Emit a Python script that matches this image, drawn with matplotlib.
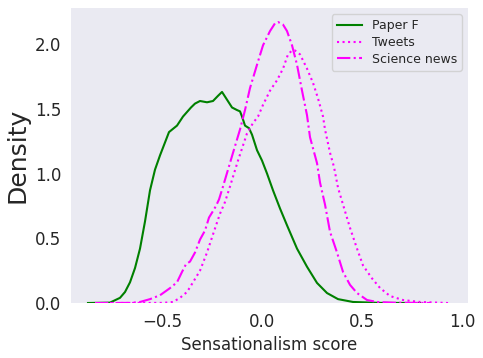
import numpy as np
import matplotlib
matplotlib.use("Agg")
import matplotlib.pyplot as plt

# density curves (x = sensationalism score, y = density)
paper_x = [-0.87, -0.76, -0.71, -0.685, -0.66, -0.635, -0.61, -0.585, -0.56, -0.535,
           -0.51, -0.485, -0.465, -0.425, -0.395, -0.355, -0.335, -0.31, -0.275, -0.245,
           -0.22, -0.20, -0.175, -0.15, -0.125, -0.11, -0.10, -0.085, -0.065, -0.05,
           -0.025, 0.0, 0.025, 0.055, 0.09, 0.125, 0.175, 0.225, 0.275, 0.325,
           0.38, 0.455, 0.59, 0.79]
paper_y = [0.0, 0.003, 0.04, 0.085, 0.16, 0.27, 0.42, 0.63, 0.87, 1.03,
           1.14, 1.24, 1.32, 1.37, 1.44, 1.51, 1.54, 1.56, 1.55, 1.56,
           1.60, 1.63, 1.57, 1.51, 1.49, 1.48, 1.44, 1.37, 1.35, 1.30,
           1.18, 1.10, 1.00, 0.87, 0.73, 0.60, 0.42, 0.28, 0.155, 0.077,
           0.03, 0.008, 0.001, 0.0]

tweets_x = [-0.76, -0.495, -0.445, -0.41, -0.375, -0.345, -0.31, -0.275, -0.245, -0.21,
            -0.185, -0.16, -0.12, -0.075, -0.045, -0.02, 0.005, 0.04, 0.075, 0.105,
            0.13, 0.15, 0.165, 0.19, 0.225, 0.255, 0.28, 0.305, 0.315, 0.34,
            0.36, 0.38, 0.405, 0.44, 0.475, 0.505, 0.55, 0.59, 0.64, 0.705,
            0.79, 0.93]
tweets_y = [0.0, 0.001, 0.008, 0.04, 0.085, 0.16, 0.25, 0.39, 0.53, 0.69,
            0.78, 0.90, 1.10, 1.31, 1.39, 1.44, 1.53, 1.64, 1.72, 1.81,
            1.92, 1.95, 1.95, 1.92, 1.81, 1.70, 1.58, 1.44, 1.34, 1.16,
            1.05, 0.89, 0.76, 0.58, 0.42, 0.29, 0.19, 0.116, 0.054, 0.023,
            0.008, 0.0]

news_x = [-0.835, -0.66, -0.61, -0.56, -0.51, -0.46, -0.425, -0.40, -0.38, -0.36,
          -0.335, -0.31, -0.285, -0.265, -0.245, -0.23, -0.215, -0.195, -0.145, -0.11,
          -0.085, -0.06, -0.025, 0.005, 0.04, 0.065, 0.08, 0.105, 0.125, 0.15,
          0.175, 0.20, 0.225, 0.24, 0.275, 0.29, 0.315, 0.34, 0.375, 0.405,
          0.44, 0.475, 0.525, 0.575, 0.665, 0.84]
news_y = [0.0, 0.001, 0.008, 0.03, 0.06, 0.115, 0.16, 0.24, 0.30, 0.32,
          0.39, 0.49, 0.56, 0.66, 0.71, 0.75, 0.80, 0.90, 1.16, 1.34,
          1.49, 1.66, 1.84, 1.99, 2.10, 2.16, 2.17, 2.15, 2.10, 1.99,
          1.84, 1.64, 1.45, 1.28, 1.08, 0.93, 0.76, 0.55, 0.39, 0.24,
          0.14, 0.077, 0.023, 0.008, 0.002, 0.0]

xticks = [-0.5, 0.0, 0.5, 1.0]
yticks = [0.0, 0.5, 1.0, 1.5, 2.0]

fig = plt.figure(figsize=(4.83, 3.58), dpi=100)
ax = fig.add_axes([0.147, 0.1536, 0.822, 0.824])
ax.set_facecolor("#EAEAF2")
for s in ax.spines.values():
    s.set_visible(False)

ax.plot(paper_x, paper_y, color="green", lw=1.5, label="Paper F")
ax.plot(tweets_x, tweets_y, color="magenta", lw=1.5, ls=":", label="Tweets")
ax.plot(news_x, news_y, color="magenta", lw=1.5, ls="-.", label="Science news")

ax.set_xlim(-0.955, 1.03)
ax.set_ylim(0, 2.278)
ax.set_xticks(xticks)
ax.set_yticks(yticks)
ax.tick_params(length=0, pad=7, labelsize=12, labelcolor="#262626")

ax.set_xlabel("Sensationalism score", fontsize=12, color="#262626")
ax.set_ylabel("Density", fontsize=18, color="#262626")

leg = ax.legend(loc="upper right", fontsize=9, labelspacing=0.3,
                facecolor="#EAEAF2", edgecolor="#CCCCCC", framealpha=0.8)
for t in leg.get_texts():
    t.set_color("#262626")

fig.savefig("out.png", dpi=100)
